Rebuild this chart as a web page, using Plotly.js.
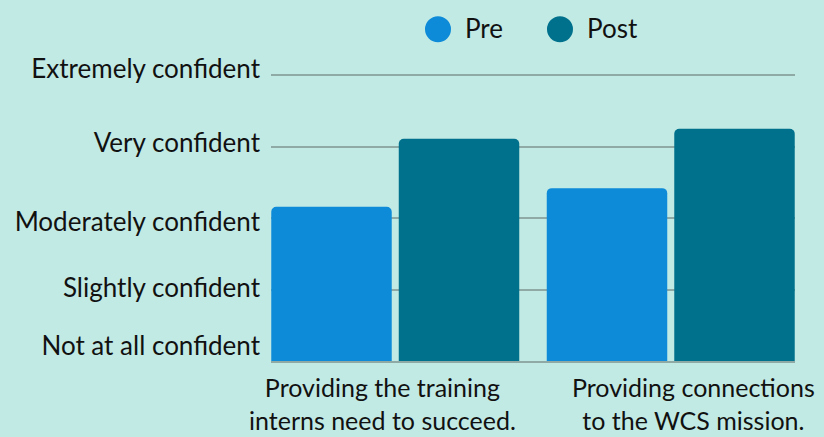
<!DOCTYPE html>
<html>
<head>
<meta charset="utf-8">
<script src="https://cdn.plot.ly/plotly-3.0.1.min.js"></script>
<style>html,body{margin:0;padding:0;background:#c2eae5;}#chart{width:824px;height:437px;}</style>
</head>
<body>
<div id="chart"></div>
<script>
// ---- data ----
const categories = ['Providing the training interns need to succeed.', 'Providing connections to the WCS mission.'];
const categoryLabels = ['Providing the training<br>interns need to succeed.', 'Providing connections<br>to the WCS mission.'];
const seriesNames = ['Pre', 'Post'];
const preValues = [3.16, 3.42];
const postValues = [4.11, 4.25];
const scaleValues = [1, 2, 3, 4, 5];
const scaleLabels = ['Not at all confident', 'Slightly confident', 'Moderately confident', 'Very confident', 'Extremely confident'];

// ---- style ----
const colors = ['#0e8bd8', '#00718c'];
const bg = '#c2eae5';
const gridColor = '#8fa9a5';
const textColor = '#111111';
const fontFamily = 'Lato, "Open Sans", sans-serif';
const fontSize = 26;
const xLabelSize = 25;
const yRange = [1, 5.2];
const labelPositions = [1.217, 2.03, 2.947, 4.047, 5.09];

const traces = [
  {type: 'bar', name: seriesNames[0], x: categories, y: preValues, marker: {color: colors[0], cornerradius: 5}, showlegend: false, hoverinfo: 'y'},
  {type: 'bar', name: seriesNames[1], x: categories, y: postValues, marker: {color: colors[1], cornerradius: 5}, showlegend: false, hoverinfo: 'y'},
  {type: 'scatter', x: [categories[0]], y: [null], yaxis: 'y2', showlegend: false, hoverinfo: 'skip'}
];

const legendX = [0.3187, 0.5515];
const legendTextX = [0.3664, 0.5992];
const legendY = 1.1057;

const shapes = seriesNames.map((n, i) => ({
  type: 'circle', xref: 'paper', yref: 'paper',
  xsizemode: 'pixel', ysizemode: 'pixel',
  xanchor: legendX[i], yanchor: legendY,
  x0: -13, x1: 13, y0: -13, y1: 13,
  fillcolor: colors[i], line: {width: 0}
}));

const annotations = seriesNames.map((n, i) => ({
  text: n, xref: 'paper', yref: 'paper', x: legendTextX[i], y: 1.1108,
  xanchor: 'left', yanchor: 'middle', showarrow: false,
  font: {family: fontFamily, size: fontSize, color: textColor}
})).concat(categories.map((c, i) => ({
  text: categoryLabels[i], xref: 'x', yref: 'paper', x: c, y: -0.032,
  xshift: [-13, 23][i], xanchor: 'center', yanchor: 'top', showarrow: false, align: 'center',
  borderpad: 0,
  font: {family: fontFamily, size: xLabelSize, color: textColor}
})));

const layout = {
  width: 824, height: 437,
  paper_bgcolor: bg, plot_bgcolor: bg,
  margin: {l: 271, r: 29, t: 61, b: 76, pad: 0},
  barmode: 'group', bargap: 0.0744, bargroupgap: 0.055,
  font: {family: fontFamily, size: fontSize, color: textColor},
  xaxis: {type: 'category', range: [-0.451, 1.451], showticklabels: false, showgrid: false, zeroline: false,
          showline: true, linecolor: gridColor, linewidth: 1.5, layer: 'below traces', ticks: ''},
  yaxis: {range: yRange, tickvals: scaleValues, showticklabels: false, showgrid: true, gridcolor: gridColor, gridwidth: 2, zeroline: false, showline: false, ticks: ''},
  yaxis2: {overlaying: 'y', side: 'left', range: yRange, tickvals: labelPositions, ticktext: scaleLabels, showgrid: false, zeroline: false, showline: false, ticks: '', ticklabelstandoff: 10, tickfont: {family: fontFamily, size: fontSize, color: textColor}},
  shapes: shapes,
  annotations: annotations,
  showlegend: false
};

Plotly.newPlot('chart', traces, layout, {displayModeBar: false, staticPlot: true});
</script>
</body>
</html>
